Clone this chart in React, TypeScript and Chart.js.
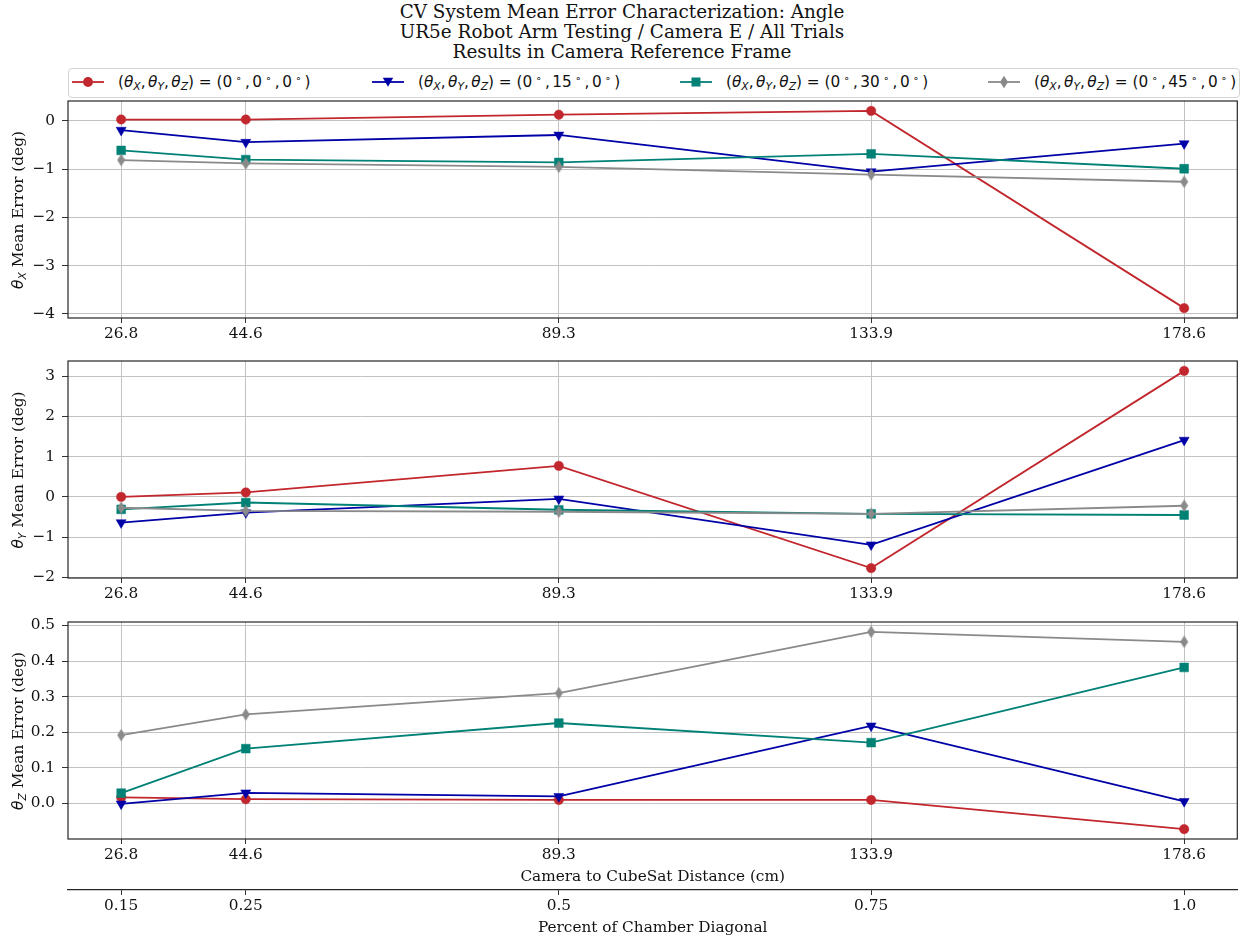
import React, { useEffect, useRef } from 'react';
import { Chart, registerables } from 'chart.js';
Chart.register(...registerables);

// ---------- data ----------
const distances = [26.8, 44.6, 89.3, 133.9, 178.6];
const distanceLabels = ['26.8', '44.6', '89.3', '133.9', '178.6'];
const percentLabels = ['0.15', '0.25', '0.5', '0.75', '1.0'];

const thetaXTicks = [-4, -3, -2, -1, 0];
const thetaYTicks = [-2, -1, 0, 1, 2, 3];
const thetaZTicks = [0, 0.1, 0.2, 0.3, 0.4, 0.5];

const seriesAngles = ['0', '15', '30', '45'];

const thetaX_00 = [0.03, 0.03, 0.13, 0.21, -3.88];
const thetaX_15 = [-0.19, -0.44, -0.29, -1.05, -0.47];
const thetaX_30 = [-0.61, -0.8, -0.86, -0.68, -0.99];
const thetaX_45 = [-0.81, -0.88, -0.95, -1.11, -1.26];

const thetaY_00 = [0.0, 0.11, 0.77, -1.77, 3.13];
const thetaY_15 = [-0.64, -0.39, -0.05, -1.19, 1.41];
const thetaY_30 = [-0.31, -0.14, -0.32, -0.42, -0.45];
const thetaY_45 = [-0.27, -0.35, -0.37, -0.42, -0.22];

const thetaZ_00 = [0.017, 0.012, 0.01, 0.01, -0.072];
const thetaZ_15 = [-0.001, 0.03, 0.02, 0.218, 0.006];
const thetaZ_30 = [0.029, 0.154, 0.226, 0.171, 0.382];
const thetaZ_45 = [0.192, 0.25, 0.31, 0.482, 0.454];

// ---------- styles ----------
const COLORS = ['#c1272d', '#0000a7', '#008176', '#8a8a8a'];
const SERIF = "'DejaVu Serif', serif";
const SANS = "'DejaVu Sans', sans-serif";
const TEXT = '#111';
const GRID = '#c2c2c2';
const FS = 15.3;

const xMin = distances[0] - 0.05 * (distances[4] - distances[0]);
const xMax = distances[4] + 0.05 * (distances[4] - distances[0]);

function makeThinDiamond(color: string) {
  const c = document.createElement('canvas');
  c.width = 9;
  c.height = 13;
  const ctx = c.getContext('2d')!;
  ctx.fillStyle = color;
  ctx.beginPath();
  ctx.moveTo(4.5, 0.3);
  ctx.lineTo(8.5, 6.5);
  ctx.lineTo(4.5, 12.7);
  ctx.lineTo(0.5, 6.5);
  ctx.closePath();
  ctx.fill();
  return c;
}

const framePlugin = {
  id: 'frame',
  afterDatasetsDraw(chart: any) {
    const { ctx, chartArea: a } = chart;
    ctx.save();
    ctx.strokeStyle = '#262626';
    ctx.lineWidth = 1.2;
    ctx.strokeRect(a.left, a.top, a.right - a.left, a.bottom - a.top);
    ctx.restore();
  },
};

type PanelProps = {
  top: number;
  height: number;
  series: number[][];
  yTicks: number[];
  decimals: number;
  bottom: boolean;
};

function fmt(v: number, d: number) {
  const s = v.toFixed(d);
  return s.replace('-', '\u2212');
}

const PAD_TOP = 12;

function Panel({ top, height, series, yTicks, decimals, bottom }: PanelProps) {
  const ref = useRef<HTMLCanvasElement>(null);
  useEffect(() => {
    if (!ref.current) return;
    const all = series.flat();
    const mn = Math.min(...all);
    const mx = Math.max(...all);
    const m = (mx - mn) * 0.05;
    const styles: any[] = [
      { pointStyle: 'circle', pointRadius: 4.7, pointRotation: 0 },
      { pointStyle: 'triangle', pointRadius: 5.8, pointRotation: 180 },
      { pointStyle: 'rect', pointRadius: 6.2, pointRotation: 0 },
      { pointStyle: makeThinDiamond(COLORS[3]), pointRadius: 6, pointRotation: 0 },
    ];
    const datasets = series.map((vals, i) => ({
      label: seriesAngles[i],
      data: vals.map((y, j) => ({ x: distances[j], y })),
      borderColor: COLORS[i],
      backgroundColor: COLORS[i],
      pointBackgroundColor: COLORS[i],
      pointBorderColor: COLORS[i],
      pointBorderWidth: 0.5,
      borderWidth: 1.8,
      tension: 0,
      order: 3 - i,
      ...styles[i],
    }));
    const font = { family: SERIF, size: FS };
    const scales: any = {
      x: {
        type: 'linear',
        min: xMin,
        max: xMax,
        weight: 0,
        afterBuildTicks: (s: any) => {
          s.ticks = distances.map((v) => ({ value: v }));
        },
        afterFit: (s: any) => {
          s.height = bottom ? 51 : 27;
          s.paddingLeft = 0;
          s.paddingRight = 0;
        },
        ticks: {
          callback: (_v: any, i: number) => distanceLabels[i],
          font,
          color: TEXT,
          padding: 2,
          maxRotation: 0,
          autoSkip: false,
        },
        grid: { color: GRID, lineWidth: 1, tickColor: '#333', tickLength: 5, drawTicks: true },
        border: { display: false },
        title: bottom
          ? {
              display: true,
              text: 'Camera to CubeSat Distance (cm)',
              font,
              color: TEXT,
              padding: { top: 0, bottom: 4 },
            }
          : { display: false },
      },
      y: {
        type: 'linear',
        min: mn - m,
        max: mx + m,
        afterBuildTicks: (s: any) => {
          s.ticks = yTicks.map((v) => ({ value: v }));
        },
        afterFit: (s: any) => {
          s.width = 68;
          s.paddingTop = 0;
          s.paddingBottom = 0;
        },
        ticks: {
          callback: (v: any) => fmt(Number(v), decimals),
          font,
          color: TEXT,
          padding: 7,
          autoSkip: false,
        },
        grid: { color: GRID, lineWidth: 1, tickColor: '#333', tickLength: 6, drawTicks: true },
        border: { display: false },
      },
    };
    if (bottom) {
      scales.x2 = {
        type: 'linear',
        position: 'bottom',
        axis: 'x',
        min: xMin,
        max: xMax,
        weight: 1,
        afterBuildTicks: (s: any) => {
          s.ticks = distances.map((v) => ({ value: v }));
        },
        afterFit: (s: any) => {
          s.height = 50;
          s.paddingLeft = 0;
          s.paddingRight = 0;
        },
        ticks: {
          callback: (_v: any, i: number) => percentLabels[i],
          font,
          color: TEXT,
          padding: 2,
          maxRotation: 0,
          autoSkip: false,
        },
        grid: { drawOnChartArea: false, drawTicks: true, tickColor: '#333', tickLength: 5, color: '#333' },
        border: { display: true, color: '#262626', width: 1.2 },
        title: {
          display: true,
          text: 'Percent of Chamber Diagonal',
          font,
          color: TEXT,
          padding: { top: 0, bottom: 3 },
        },
      };
    }
    const chart = new Chart(ref.current, {
      type: 'line',
      data: { datasets },
      options: {
        animation: false,
        responsive: false,
        maintainAspectRatio: false,
        devicePixelRatio: 1,
        layout: { padding: { top: PAD_TOP, right: 4, bottom: 0, left: 0 } },
        plugins: { legend: { display: false }, tooltip: { enabled: false } },
        scales,
      } as any,
      plugins: [framePlugin],
    });
    return () => chart.destroy();
  }, []);
  return (
    <canvas
      ref={ref}
      width={1244}
      height={height}
      style={{ position: 'absolute', left: 0, top, width: 1244, height }}
    />
  );
}

function Theta({ sub }: { sub: string }) {
  return (
    <span style={{ fontFamily: SANS, fontStyle: 'italic' }}>
      θ<sub style={{ fontSize: '70%', verticalAlign: '-0.25em', lineHeight: 0 }}>{sub}</sub>
    </span>
  );
}

function YTitle({ sub, cy }: { sub: string; cy: number }) {
  return (
    <div
      style={{
        position: 'absolute',
        left: 18,
        top: cy,
        transform: 'translate(-50%, -50%) rotate(-90deg)',
        whiteSpace: 'nowrap',
        fontFamily: SERIF,
        fontSize: FS,
        color: TEXT,
        lineHeight: '18px',
      }}
    >
      <Theta sub={sub} /> Mean Error (deg)
    </div>
  );
}

function Marker({ i }: { i: number }) {
  const c = COLORS[i];
  let shape: any = null;
  if (i === 0) shape = <circle cx={16} cy={7} r={4.9} fill={c} />;
  if (i === 1) shape = <polygon points="10.8,2.8 21.2,2.8 16,11.8" fill={c} />;
  if (i === 2) shape = <rect x={11.5} y={2.5} width={9} height={9} fill={c} />;
  if (i === 3) shape = <polygon points="16,0.8 20,7 16,13.2 12,7" fill={c} />;
  return (
    <svg width={32} height={14} style={{ display: 'block' }}>
      <line x1={0} y1={7} x2={32} y2={7} stroke={c} strokeWidth={1.8} />
      {shape}
    </svg>
  );
}

const legendX = [72, 372, 680, 988];

function Sep() {
  return <span style={{ marginRight: 2.5 }}>,</span>;
}

function Deg() {
  return (
    <sup style={{ fontSize: '70%', margin: '0 3px 0 3px', lineHeight: 0, verticalAlign: '0.45em' }}>∘</sup>
  );
}

function Legend() {
  return (
    <>
      <div
        style={{
          position: 'absolute',
          left: 68,
          top: 68,
          width: 1170,
          height: 28,
          border: '1px solid #d4d4d4',
          borderRadius: 4,
          background: '#fff',
        }}
      />
      {seriesAngles.map((a, i) => (
        <div
          key={i}
          style={{
            position: 'absolute',
            left: legendX[i],
            top: 73,
            height: 18,
            display: 'flex',
            alignItems: 'center',
            whiteSpace: 'nowrap',
            fontFamily: SANS,
            fontSize: FS,
            color: TEXT,
          }}
        >
          <Marker i={i} />
          <span style={{ marginLeft: 14 }}>
            (<Theta sub="X" />
            <Sep />
            <Theta sub="Y" />
            <Sep />
            <Theta sub="Z" />) = (0<Deg />
            <Sep />
            {a}
            <Deg />
            <Sep />
            0<Deg />)
          </span>
        </div>
      ))}
    </>
  );
}

export default function App() {
  return (
    <div
      style={{
        position: 'absolute',
        left: 0,
        top: 0,
        width: 1244,
        height: 940,
        background: '#fff',
        overflow: 'hidden',
      }}
    >
      <div
        style={{
          position: 'absolute',
          left: 0,
          top: 2,
          width: 1244,
          textAlign: 'center',
          fontFamily: SERIF,
          fontSize: 18.4,
          lineHeight: '20px',
          color: TEXT,
        }}
      >
        <div>CV System Mean Error Characterization: Angle</div>
        <div>UR5e Robot Arm Testing / Camera E / All Trials</div>
        <div>Results in Camera Reference Frame</div>
      </div>
      <Legend />
      <Panel top={101 - PAD_TOP} height={PAD_TOP + 217 + 27} series={[thetaX_00, thetaX_15, thetaX_30, thetaX_45]} yTicks={thetaXTicks} decimals={0} bottom={false} />
      <Panel top={361 - PAD_TOP} height={PAD_TOP + 217 + 27} series={[thetaY_00, thetaY_15, thetaY_30, thetaY_45]} yTicks={thetaYTicks} decimals={0} bottom={false} />
      <Panel top={622 - PAD_TOP} height={PAD_TOP + 217 + 51 + 50} series={[thetaZ_00, thetaZ_15, thetaZ_30, thetaZ_45]} yTicks={thetaZTicks} decimals={1} bottom={true} />
      <YTitle sub="X" cy={209.5} />
      <YTitle sub="Y" cy={469.5} />
      <YTitle sub="Z" cy={730.5} />
    </div>
  );
}
